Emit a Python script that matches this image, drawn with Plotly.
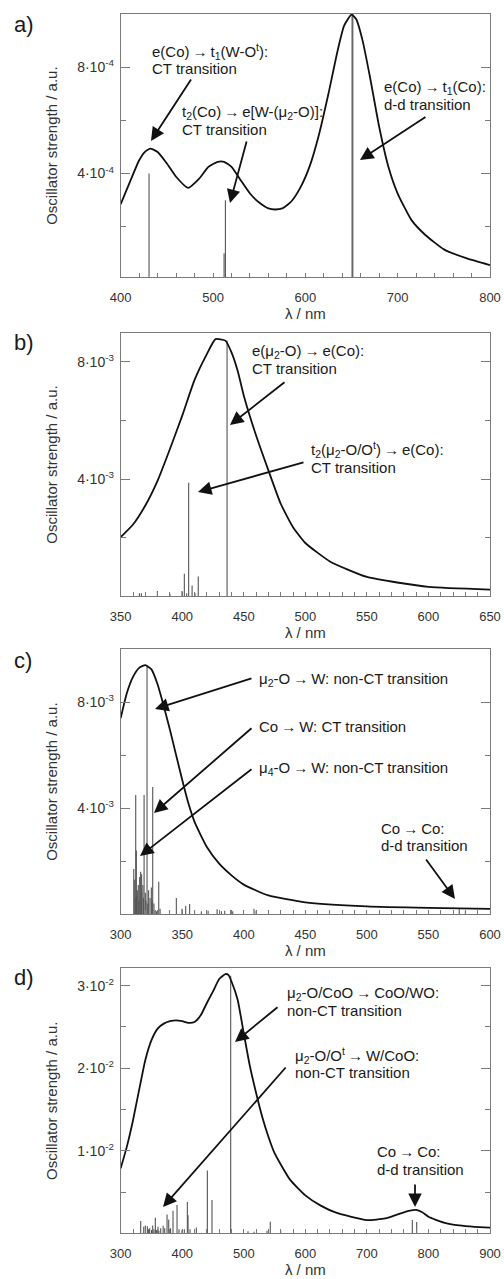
import plotly.graph_objects as go

W, H = 504, 1279

# ---------------- data ----------------
# panel a
a_curve_x = [400, 410, 420, 426, 432, 440, 450, 460, 473, 485, 495, 505, 512, 520, 530, 540, 550, 560, 567,
             575, 585, 595, 605, 615, 625, 635, 642, 650, 655, 662, 670, 680, 690, 700, 715, 730, 750, 775, 800]
a_curve_y = [2.85, 3.69, 4.50, 4.81, 4.94, 4.81, 4.38, 3.88, 3.46, 3.81, 4.25, 4.44, 4.44, 4.25, 3.75, 3.25,
             2.91, 2.69, 2.65, 2.69, 2.96, 3.50, 4.31, 5.50, 7.00, 8.63, 9.56, 9.98, 9.81, 9.00, 7.63, 5.75,
             4.25, 3.25, 2.25, 1.69, 1.15, 0.81, 0.56]  # x1e-4
a_stick_x = [430.7, 512.0, 513.4, 650.6, 651.4]
a_stick_y = [4.0, 1.0, 3.0, 10.0, 10.0]  # x1e-4

# panel b
b_curve_x = [350, 360, 370, 380, 390, 400, 410, 420, 427, 435, 440, 445, 450, 460, 470, 480, 490, 500,
             520, 550, 600, 650]
b_curve_y = [2.02, 2.45, 3.10, 3.95, 5.03, 6.17, 7.39, 8.27, 8.78, 8.73, 8.33, 7.70, 6.85, 5.49, 4.30,
             3.16, 2.36, 1.82, 1.19, 0.66, 0.32, 0.23]  # x1e-3
b_stick_x = [365.2, 366.8, 379.8, 390.0, 399.8, 401.7, 403.6, 405.2, 408.0, 410.4, 413.0, 436.4]
b_stick_y = [0.10, 0.10, 0.18, 0.09, 0.18, 0.77, 0.10, 3.88, 0.37, 0.10, 0.68, 8.73]  # x1e-3

# panel c
c_curve_x = [300, 305, 310, 315, 320, 325, 330, 335, 340, 345, 350, 355, 360, 370, 380, 390, 400, 420,
             450, 500, 550, 600]
c_curve_y = [7.40, 8.35, 8.96, 9.30, 9.40, 9.24, 8.67, 7.85, 6.96, 6.01, 5.06, 4.18, 3.48, 2.53, 1.90,
             1.46, 1.11, 0.70, 0.44, 0.29, 0.23, 0.19]  # x1e-3
c_stick_x = [310.6, 311.4, 311.8, 312.2, 312.7, 313.0, 313.5, 314.3, 314.8, 315.4, 316.2, 316.8, 317.0,
             318.0, 318.5, 319.0, 320.0, 320.5, 321.4, 322.0, 322.7, 323.8, 324.9, 325.5, 326.0, 327.0,
             328.0, 329.0, 330.9, 332.0, 345.2, 349.8, 352.8, 356.0, 360.0, 365.5, 371.0, 378.3, 381.8,
             384.5, 389.4, 391.0, 408.3, 410.0, 575.0, 580.0]
c_stick_y = [1.70, 1.30, 0.60, 4.50, 2.40, 0.70, 0.90, 1.10, 0.50, 1.40, 1.60, 0.80, 1.50, 1.10, 0.60,
             4.50, 0.80, 0.50, 9.35, 0.40, 0.90, 0.60, 1.00, 0.50, 4.80, 0.40, 0.15, 0.10, 1.22, 0.20,
             0.60, 0.20, 0.30, 0.38, 0.10, 0.10, 0.12, 0.18, 0.10, 0.12, 0.15, 0.10, 0.20, 0.12, 0.20,
             0.10]  # x1e-3

# panel d
d_curve_x = [300, 310, 320, 330, 340, 350, 360, 370, 380, 390, 400, 410, 420, 430, 440, 450, 460, 470,
             475, 480, 490, 500, 510, 520, 530, 540, 550, 575, 600, 625, 650, 700, 730, 750, 770, 780,
             790, 800, 825, 850, 875, 900]
d_curve_y = [7.87, 10.5, 13.7, 17.4, 21.0, 23.4, 24.8, 25.4, 25.7, 25.8, 25.7, 25.5, 25.6, 26.4, 27.9,
             29.3, 30.8, 31.4, 31.3, 30.5, 28.3, 24.2, 20.2, 17.0, 14.1, 11.7, 9.7, 6.5, 4.6, 3.35, 2.5,
             1.6, 1.8, 2.3, 2.75, 2.83, 2.54, 2.0, 1.3, 0.95, 0.78, 0.69]  # x1e-3
d_stick_x = [332.5, 337.4, 340.0, 343.3, 345.0, 347.0, 350.0, 352.0, 354.0, 356.3, 358.0, 360.6, 362.0,
             365.0, 369.0, 371.5, 375.3, 378.0, 381.0, 385.0, 391.5, 394.7, 399.6, 403.4, 408.3, 409.4,
             412.6, 422.9, 440.8, 448.3, 478.7, 506.8, 516.6, 537.7, 543.0, 559.9, 773.8, 780.9]
d_stick_y = [1.48, 0.80, 0.95, 0.85, 0.50, 0.60, 0.40, 0.95, 0.50, 1.88, 0.40, 0.80, 0.30, 0.60, 0.90,
             0.60, 2.29, 1.68, 0.60, 2.74, 3.42, 0.50, 0.40, 0.50, 3.80, 2.20, 0.50, 0.70, 7.60, 4.03,
             31.2, 0.25, 0.20, 0.30, 1.40, 0.30, 1.60, 1.37]  # x1e-3

panel_labels = ["a)", "b)", "c)", "d)"]
x_ranges = [[400, 800], [350, 650], [300, 600], [300, 900]]
x_dticks = [100, 50, 50, 100]
x_minor = [20, 10, 10, 20]
y_ranges = [[1e-5, 1e-3], [0, 9e-3], [0, 1e-2], [0, 3.21e-2]]
y_tickvals = [[4e-4, 8e-4], [4e-3, 8e-3], [4e-3, 8e-3], [1e-2, 2e-2, 3e-2]]
y_ticktext = [["4·10<sup>-4</sup>", "8·10<sup>-4</sup>"],
              ["4·10<sup>-3</sup>", "8·10<sup>-3</sup>"],
              ["4·10<sup>-3</sup>", "8·10<sup>-3</sup>"],
              ["1·10<sup>-2</sup>", "2·10<sup>-2</sup>", "3·10<sup>-2</sup>"]]
y_minorvals = [[2e-4, 6e-4], [2e-3, 6e-3], [2e-3, 6e-3], [0.5e-2, 1.5e-2, 2.5e-2]]
scales = [1e-4, 1e-3, 1e-3, 1e-3]

curves = [(a_curve_x, a_curve_y), (b_curve_x, b_curve_y), (c_curve_x, c_curve_y), (d_curve_x, d_curve_y)]
sticks = [(a_stick_x, a_stick_y), (b_stick_x, b_stick_y), (c_stick_x, c_stick_y), (d_stick_x, d_stick_y)]

# pixel boxes of plot areas (top, bottom)
boxes = [(14, 277.3), (332.7, 596.3), (649.3, 914), (968.3, 1233.3)]
left_px, right_px = 120.7, 490

FONT = "Liberation Sans, Arial, sans-serif"
AX = "#7a7a7a"
TXT = "#1a1a1a"
ARW = "\u2009→\u2009"

def px(x):
    return x / W

def py(y):
    return 1 - y / H

fig = go.Figure()
layout = dict(width=W, height=H, margin=dict(l=0, r=0, t=0, b=0), autosize=False,
              paper_bgcolor="white", plot_bgcolor="white", showlegend=False,
              font=dict(family=FONT, color=TXT))

for i in range(4):
    n = "" if i == 0 else str(i + 1)
    sx, sy = sticks[i]
    xs, ys = [], []
    for xv, yv in zip(sx, sy):
        xs += [xv, xv, None]
        ys += [0, yv * scales[i], None]
    fig.add_trace(go.Scatter(x=xs, y=ys, mode="lines", line=dict(color="#555555", width=1.1),
                             xaxis="x" + n, yaxis="y" + n, hoverinfo="skip"))
    cx, cy = curves[i]
    fig.add_trace(go.Scatter(x=cx, y=[v * scales[i] for v in cy], mode="lines",
                             line=dict(color="#111111", width=1.8, shape="spline", smoothing=0.5),
                             xaxis="x" + n, yaxis="y" + n, hoverinfo="skip"))
    top, bot = boxes[i]
    layout["xaxis" + n] = dict(
        domain=[px(left_px), px(right_px)], range=x_ranges[i], anchor="y" + n, automargin=False,
        showline=True, mirror=True, linecolor=AX, linewidth=1,
        ticks="inside", ticklen=4, tickcolor=AX, tickwidth=1,
        tick0=0, dtick=x_dticks[i], ticklabelstandoff=8,
        minor=dict(dtick=x_minor[i], ticks="inside", ticklen=4, tickcolor=AX, tickwidth=1),
        showgrid=False, zeroline=False,
        tickfont=dict(size=13, family=FONT, color="#333"),
        title=dict(text="λ / nm", font=dict(size=15, family=FONT, color="#333"), standoff=1),
    )
    layout["yaxis" + n] = dict(
        domain=[py(bot), py(top)], range=y_ranges[i], anchor="x" + n, automargin=False,
        showline=True, mirror="allticks", linecolor=AX, linewidth=1,
        ticks="inside", ticklen=9, tickcolor=AX, tickwidth=1,
        tickmode="array", tickvals=y_tickvals[i], ticktext=y_ticktext[i],
        ticklabelstandoff=3,
        minor=dict(tickmode="array", tickvals=y_minorvals[i], ticks="inside", ticklen=5,
                   tickcolor=AX, tickwidth=1),
        showgrid=False, zeroline=False,
        tickfont=dict(size=14, family=FONT, color="#333"),
        title=dict(text="Oscillator strength / a.u.", font=dict(size=15, family=FONT, color="#333")),
    )

annotations = []
label_pos = [(12, 25), (12, 343), (12, 660), (12, 977)]
for lab, (x, y) in zip(panel_labels, label_pos):
    annotations.append(dict(text=lab, x=px(x), y=py(y), xref="paper", yref="paper", xanchor="left",
                            yanchor="middle", showarrow=False, font=dict(size=22, family=FONT, color=TXT)))

text_lines = [
    ("e(Co)" + ARW + "t<sub>1</sub>(W-O<sup>t</sup>):", 150, 52), ("CT transition", 150, 69),
    ("t<sub>2</sub>(Co)" + ARW + "e[W-(μ<sub>2</sub>-O)]:", 180, 112), ("CT transition", 180, 129),
    ("e(Co)" + ARW + "t<sub>1</sub>(Co):", 382, 87), ("d-d transition", 382, 104),
    ("e(μ<sub>2</sub>-O)" + ARW + "e(Co):", 250, 351), ("CT transition", 250, 368.5),
    ("t<sub>2</sub>(μ<sub>2</sub>-O/O<sup>t</sup>)" + ARW + "e(Co):", 309, 450), ("CT transition", 309, 467),
    ("μ<sub>2</sub>-O" + ARW + "W: non-CT transition", 257, 679),
    ("Co" + ARW + "W: CT transition", 257, 726),
    ("μ<sub>4</sub>-O" + ARW + "W: non-CT transition", 257, 768),
    ("Co" + ARW + "Co:", 379, 828), ("d-d transition", 379, 845),
    ("μ<sub>2</sub>-O/CoO" + ARW + "CoO/WO:", 285, 993), ("non-CT transition", 285, 1010.7),
    ("μ<sub>2</sub>-O/O<sup>t</sup>" + ARW + "W/CoO:", 293, 1055.5), ("non-CT transition", 293, 1072.5),
    ("Co" + ARW + "Co:", 375, 1151), ("d-d transition", 375, 1169),
]
for t, x, y in text_lines:
    annotations.append(dict(text=t, x=px(x), y=py(y), xref="paper", yref="paper", xanchor="left",
                            yanchor="middle", showarrow=False, font=dict(size=15, family=FONT, color=TXT)))

arrows = [
    ((192, 78), (151, 141)), ((247, 140), (230, 203)), ((427, 116), (360, 160)),
    ((286, 381), (230, 425)), ((305, 462), (198, 492)),
    ((253, 678), (155, 709)), ((253, 727), (154, 813)), ((253, 768), (140, 856)), ((425, 858), (455, 899)),
    ((279, 1006), (235, 1042)), ((287, 1066), (163, 1207)), ((415, 1183), (415, 1207)),
]
for (tx, ty), (hx, hy) in arrows:
    annotations.append(dict(text="", x=px(hx), y=py(hy), xref="paper", yref="paper",
                            ax=tx - hx, ay=ty - hy, showarrow=True, arrowhead=2, arrowsize=1.5,
                            arrowwidth=1.8, arrowcolor="#111111", standoff=0, startstandoff=0))

layout["annotations"] = annotations
fig.update_layout(**layout)
fig.write_html("out.html", config={"displayModeBar": False},
               post_script="document.body.style.margin='0';document.body.style.overflow='hidden';")
